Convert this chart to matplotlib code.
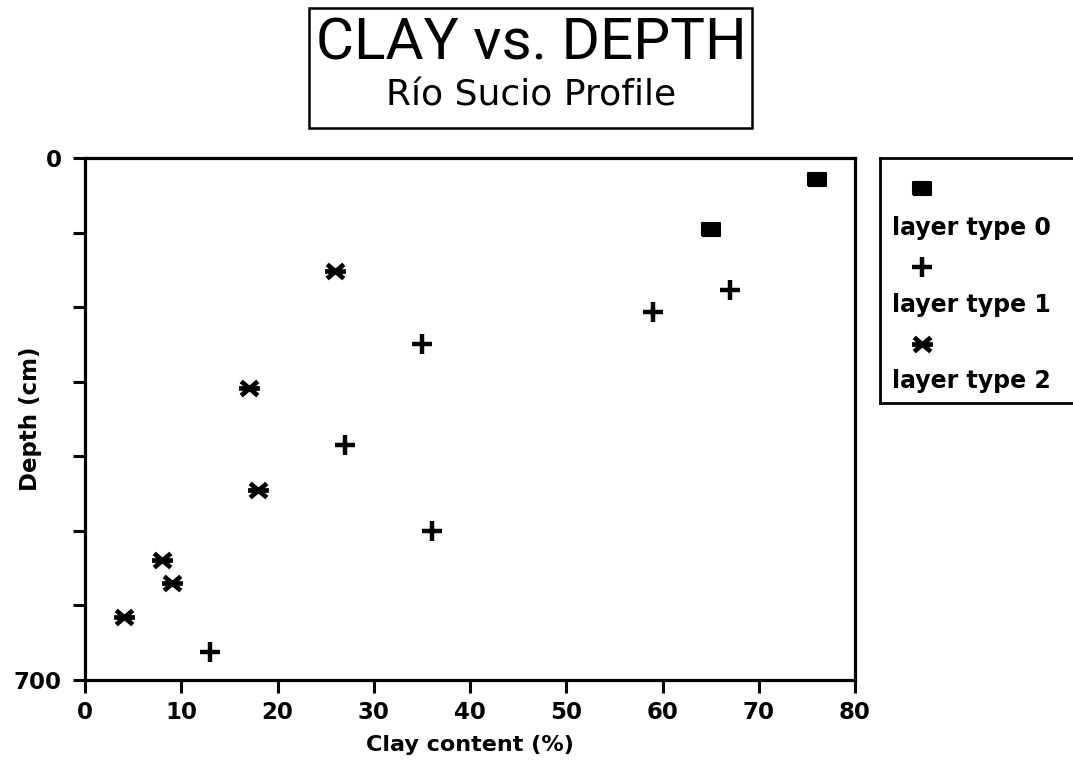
import matplotlib.pyplot as plt
from matplotlib.patches import Rectangle
from matplotlib.path import Path

plt.rcParams['font.family'] = ['DejaVu Sans']

# clay content (%) and depth (cm) by layer type
clay_0 = [76, 65]
depth_0 = [28, 95]
clay_1 = [67, 59, 35, 27, 36, 13]
depth_1 = [177, 206, 250, 385, 500, 662]
clay_2 = [26, 17, 18, 8, 9, 4]
depth_2 = [151, 309, 445, 539, 570, 615]

layer_labels = ['layer type 0', 'layer type 1', 'layer type 2']
x_ticks = list(range(0, 81, 10))
y_ticks = list(range(0, 701, 100))
y_ticklabels = ['0', '', '', '', '', '', '', '700']

# marker shapes: wide box, thick plus, flat asterisk
box = [(-1.0, -0.72), (1.0, -0.72), (1.0, 0.72), (-1.0, 0.72), (-1.0, -0.72)]
star = Path([(-1, 0), (1, 0), (-0.8, -0.68), (0.8, 0.68), (-0.8, 0.68), (0.8, -0.68)],
            [Path.MOVETO, Path.LINETO] * 3)
styles = [
    dict(marker=box, ms=13, color='black', mec='black', mew=1.5, ls='none'),
    dict(marker='+', ms=14, color='black', mew=3.2, ls='none'),
    dict(marker=star, ms=15, color='black', mew=3.4, ls='none'),
]

fig = plt.figure(figsize=(10.73, 7.67), dpi=100)
W, H = 1073, 767
ax = fig.add_axes([85 / W, 1 - 680 / H, 770 / W, 522 / H])

for xs, ys, st in zip([clay_0, clay_1, clay_2], [depth_0, depth_1, depth_2], styles):
    ax.plot(xs, ys, **st)

ax.set_xlim(0, 80)
ax.set_ylim(700, 0)
ax.set_xticks(x_ticks)
ax.set_xticklabels([str(t) for t in x_ticks], fontsize=16.5, fontweight='bold')
ax.set_yticks(y_ticks)
ax.set_yticklabels(y_ticklabels, fontsize=16.5, fontweight='bold')
ax.tick_params(direction='out', length=9, width=2.2)
ax.tick_params(axis='x', pad=6)
ax.tick_params(axis='y', pad=8)
for s in ax.spines.values():
    s.set_linewidth(2.3)
ax.set_xlabel('Clay content (%)', fontsize=16, fontweight='bold', labelpad=8)
ax.set_ylabel('Depth (cm)', fontsize=16.5, fontweight='bold')
ax.yaxis.set_label_coords(-0.056, 0.5)

# title box
fig.add_artist(Rectangle((309 / W, 1 - 128 / H), 443 / W, 120 / H,
                         transform=fig.transFigure, fill=False,
                         lw=1.8, ec='black'))
fig.text(531 / W, 1 - 44 / H, 'CLAY vs. DEPTH', ha='center', va='center',
         fontsize=42, family=['Roboto', 'DejaVu Sans'])
fig.text(531 / W, 1 - 96 / H, 'Río Sucio Profile', ha='center', va='center',
         fontsize=26)

# legend box, keys above their labels
lax = fig.add_axes([880 / W, 1 - 403 / H, 200 / W, 245 / H])
lax.set_xlim(0, 1)
lax.set_ylim(0, 1)
lax.set_xticks([])
lax.set_yticks([])
for s in lax.spines.values():
    s.set_linewidth(2.0)
key_y = [0.878, 0.555, 0.241]
text_y = [0.714, 0.40, 0.09]
for st, ky, ty, lab in zip(styles, key_y, text_y, layer_labels):
    lax.plot([0.21], [ky], **st)
    lax.text(0.06, ty, lab, fontsize=17, fontweight='bold', va='center')

fig.savefig('out.png', dpi=100)
